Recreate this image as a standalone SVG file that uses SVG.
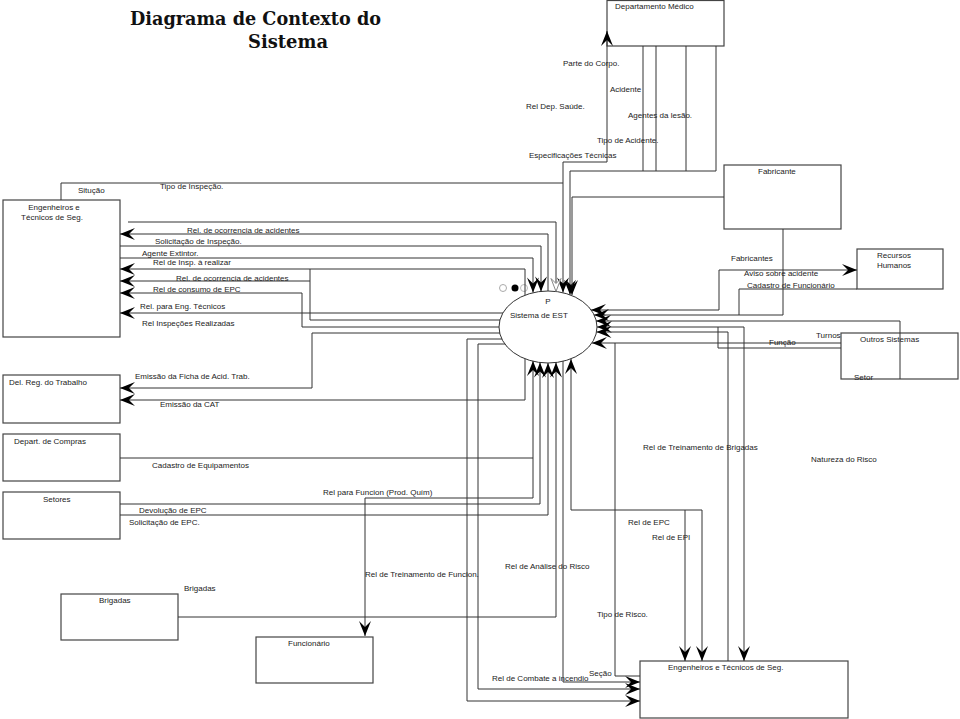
<svg xmlns="http://www.w3.org/2000/svg" width="960" height="719" viewBox="0 0 960 719">
<style>
.box{fill:#fff;stroke:#444;stroke-width:1.2}
.t{font-family:"Liberation Sans",Arial,sans-serif;font-size:8px;fill:#222}
.m{text-anchor:middle}
.c path{fill:none;stroke:#333;stroke-width:1}
.ttl{font-family:"DejaVu Serif","Liberation Serif",serif;font-weight:bold;font-size:19px;fill:#111}
</style>
<defs>
<marker id="arr" markerUnits="userSpaceOnUse" viewBox="-16 -7 17 14" refX="0" refY="0" markerWidth="17" markerHeight="14" orient="auto-start-reverse">
<path d="M0,0L-15,-6L-9,0L-15,6Z" fill="#000" stroke="none"/>
</marker>
<marker id="arrO" markerUnits="userSpaceOnUse" viewBox="-16 -7 17 14" refX="0" refY="0" markerWidth="17" markerHeight="14" orient="auto">
<path d="M0,0L-13,-5L-8,0L-13,5Z" fill="#fff" stroke="#888" stroke-width="1"/>
</marker>
</defs>
<rect width="960" height="719" fill="#fff"/>
<text class="ttl" x="130" y="25" textLength="251" lengthAdjust="spacingAndGlyphs">Diagrama de Contexto do</text>
<text class="ttl" x="248" y="48" textLength="80" lengthAdjust="spacingAndGlyphs">Sistema</text>

<g id="dept-medico"><rect class="box" x="607" y="0.5" width="117" height="45.5"/><text class="t" x="615" y="9">Departamento Médico</text></g>
<g id="fabricante"><rect class="box" x="724" y="165" width="117" height="64"/><text class="t" x="758" y="174">Fabricante</text></g>
<g id="eng-tec-seg-1"><rect class="box" x="3" y="200" width="117" height="137"/><text class="t m" x="54" y="210">Engenheiros e</text><text class="t m" x="52" y="220">Técnicos de Seg.</text></g>
<g id="del-reg-trabalho"><rect class="box" x="3" y="375" width="117" height="48"/><text class="t" x="9" y="385">Del. Reg. do Trabalho</text></g>
<g id="depart-compras"><rect class="box" x="3" y="434" width="117" height="47"/><text class="t" x="14" y="444">Depart. de Compras</text></g>
<g id="setores"><rect class="box" x="3" y="492" width="117" height="47"/><text class="t" x="43" y="502">Setores</text></g>
<g id="brigadas"><rect class="box" x="61" y="594" width="117" height="46"/><text class="t" x="99" y="603">Brigadas</text></g>
<g id="funcionario"><rect class="box" x="256" y="637" width="117" height="46"/><text class="t" x="288" y="646">Funcionário</text></g>
<g id="eng-tec-seg-2"><rect class="box" x="640" y="661" width="208" height="57"/><text class="t" x="668" y="670">Engenheiros e Técnicos de Seg.</text></g>
<g id="recursos-humanos"><rect class="box" x="857" y="249" width="86" height="40"/><text class="t m" x="894" y="258">Recursos</text><text class="t m" x="894" y="268">Humanos</text></g>
<g id="outros-sistemas"><rect class="box" x="841" y="333" width="117" height="46"/><text class="t" x="860" y="342">Outros Sistemas</text></g>
<g id="sistema-est"><ellipse cx="548" cy="327" rx="49" ry="36" fill="#fff" stroke="#333" stroke-width="1"/><text class="t m" x="548" y="304">P</text><text class="t" x="510" y="318">Sistema de EST</text>
<circle cx="503" cy="288" r="3.5" fill="#fff" stroke="#aaa"/><circle cx="515" cy="288" r="3.5" fill="#000"/><circle cx="524" cy="288" r="3.5" fill="#fff" stroke="#bbb"/></g>

<g id="connectors" class="c">
<path d="M61,200V183H563V292.5" marker-end="url(#arr)"/>
<path d="M563,183V162H607V31" marker-end="url(#arr)"/>
<path d="M128,222H556V291.5" marker-end="url(#arrO)"/>
<path d="M548,291V234H120" marker-end="url(#arr)"/>
<path d="M120,246H541V291.5" marker-end="url(#arr)"/>
<path d="M120,258H533V292.5" marker-end="url(#arr)"/>
<path d="M525,295V269H120" marker-end="url(#arr)"/>
<path d="M310,269V320H500"/>
<path d="M310,281H120" marker-end="url(#arr)"/>
<path d="M499,327H302V293H120" marker-end="url(#arr)"/>
<path d="M503,313H120" marker-end="url(#arr)"/>
<path d="M500,333H312V388H120" marker-end="url(#arr)"/>
<path d="M525,359V400H120" marker-end="url(#arr)"/>
<path d="M120,458H533V361" marker-end="url(#arr)"/>
<path d="M533,458V498H365V636" marker-end="url(#arr)"/>
<path d="M120,504H540V362.5" marker-end="url(#arr)"/>
<path d="M120,515H548V363" marker-end="url(#arr)"/>
<path d="M178,617H556V362.5" marker-end="url(#arr)"/>
<path d="M563,361V682H640" marker-end="url(#arr)"/>
<path d="M571,359V510H702V661" marker-start="url(#arr)" marker-end="url(#arr)"/>
<path d="M685,510V661" marker-end="url(#arr)"/>
<path d="M502,339H467V701H640" marker-end="url(#arr)"/>
<path d="M505,344H478V689H640" marker-end="url(#arr)"/>
<path d="M640,676H615V343H592" marker-end="url(#arr)"/>
<path d="M841,343H615"/>
<path d="M591,310H719V270H857" marker-start="url(#arr)" marker-end="url(#arr)"/>
<path d="M783,229V315H594" marker-end="url(#arr)"/>
<path d="M857,289H739V315"/>
<path d="M900,379V321H596" marker-end="url(#arr)"/>
<path d="M597,327H744V661" marker-start="url(#arr)" marker-end="url(#arr)"/>
<path d="M728,661V332H596.5" marker-end="url(#arr)"/>
<path d="M841,348H718V327"/>
<path d="M716,46V171H570V294.8" marker-end="url(#arr)"/>
<path d="M643,46V171M656,46V171M686,46V171"/>
<path d="M724,197H572V295" marker-end="url(#arr)"/>

<text class="t" x="563" y="66">Parte do Corpo.</text>
<text class="t" x="610" y="92">Acidente</text>
<text class="t" x="526" y="109">Rel Dep. Saúde.</text>
<text class="t" x="628" y="118">Agentes da lesão.</text>
<text class="t" x="597" y="143">Tipo de Acidente.</text>
<text class="t" x="529" y="158">Especificações Técnicas</text>
<text class="t" x="78" y="193">Situção</text>
<text class="t" x="160" y="189">Tipo de Inspeção.</text>
<text class="t" x="187" y="233">Rel. de ocorrencia de acidentes</text>
<text class="t" x="155" y="244">Solicitação de Inspeção.</text>
<text class="t" x="142" y="256">Agente Extintor.</text>
<text class="t" x="153" y="265">Rel de Insp. à realizar</text>
<text class="t" x="176" y="281">Rel. de ocorrencia de acidentes</text>
<text class="t" x="153" y="292">Rel de consumo de EPC</text>
<text class="t" x="140" y="309">Rel. para Eng. Técnicos</text>
<text class="t" x="142" y="326">Rel Inspeções Realizadas</text>
<text class="t" x="135" y="379">Emissão da Ficha de Acid. Trab.</text>
<text class="t" x="160" y="407">Emissão da CAT</text>
<text class="t" x="152" y="468">Cadastro de Equipamentos</text>
<text class="t" x="323" y="495">Rel para Funcion (Prod. Quím)</text>
<text class="t" x="139" y="513">Devolução de EPC</text>
<text class="t" x="129" y="525">Solicitação de EPC.</text>
<text class="t" x="184" y="591">Brigadas</text>
<text class="t" x="365" y="577">Rel de Treinamento de Funcion.</text>
<text class="t" x="505" y="569">Rel de Análise do Risco</text>
<text class="t" x="597" y="617">Tipo de Risco.</text>
<text class="t" x="492" y="681">Rel de Combate a incendio</text>
<text class="t" x="589" y="676">Seção</text>
<text class="t" x="628" y="525">Rel de EPC</text>
<text class="t" x="652" y="540">Rel de EPI</text>
<text class="t" x="643" y="450">Rel de Treinamento de Brigadas</text>
<text class="t" x="811" y="462">Natureza do Risco</text>
<text class="t" x="731" y="261">Fabricantes</text>
<text class="t" x="744" y="276">Aviso sobre acidente</text>
<text class="t" x="747" y="288">Cadastro de Funcionário</text>
<text class="t" x="816" y="338">Turnos</text>
<text class="t" x="769" y="345">Função</text>
<text class="t" x="854" y="380">Setor</text>
</g>
</svg>
